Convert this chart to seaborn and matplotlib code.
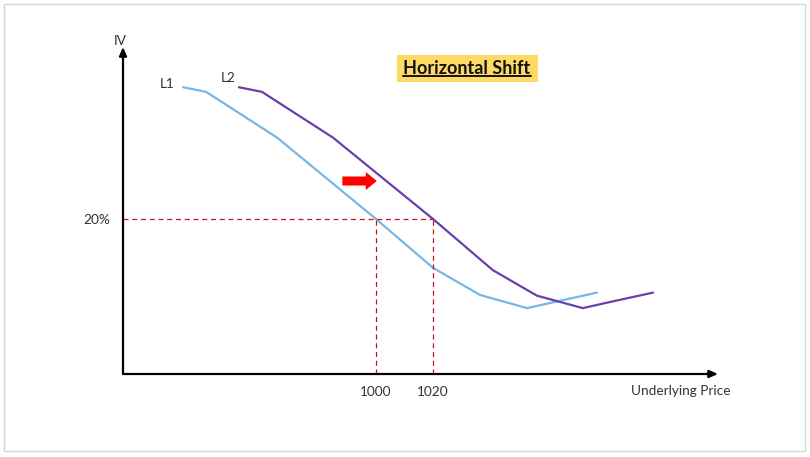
import matplotlib
matplotlib.use("Agg")
import matplotlib.pyplot as plt
import matplotlib.patches as mpatches
from matplotlib.lines import Line2D
import seaborn as sns
import pandas as pd

# ---- data ----
l1_price = [932.3, 940.4, 965.3, 1000.0, 1020.0, 1036.5, 1053.0, 1077.5]
l1_iv = [37.0, 36.4, 30.5, 20.0, 13.7, 10.2, 8.5, 10.5]
l2_price = [951.9, 960.0, 984.9, 1020.0, 1041.0, 1056.5, 1072.6, 1081.0, 1097.2]
l2_iv = [37.0, 36.4, 30.5, 20.0, 13.4, 10.1, 8.5, 9.2, 10.5]
ref_prices = [1000, 1020]
ref_iv = 20
x_tick_labels = ["1000", "1020"]
y_tick_label = "20%"
title = "Horizontal Shift"

sns.set_style("white")
plt.rcParams["font.family"] = ["Lato", "DejaVu Sans"]

df = pd.concat([
    pd.DataFrame({"price": l1_price, "iv": l1_iv, "series": "L1"}),
    pd.DataFrame({"price": l2_price, "iv": l2_iv, "series": "L2"}),
])

fig = plt.figure(figsize=(8.10, 4.57), dpi=100)
ax = fig.add_axes([123 / 810, (457 - 374) / 457, (718 - 123) / 810, (374 - 47) / 457])
ax.set_xlim(911.23, 1120.0)
ax.set_ylim(0, 42.19)

palette = {"L1": "#76B7E5", "L2": "#6A3FAA"}
sns.lineplot(data=df, x="price", y="iv", hue="series", palette=palette,
             linewidth=1.6, sort=False, estimator=None, legend=False, ax=ax)

# dashed reference lines
red = "#C0141E"
ax.plot([ax.get_xlim()[0], ref_prices[1]], [ref_iv, ref_iv], ls=(0, (4, 3)), color=red, lw=0.9)
for p in ref_prices:
    ax.plot([p, p], [0, ref_iv], ls=(0, (4, 3)), color=red, lw=0.9)

# axes with arrows
for s in ax.spines.values():
    s.set_visible(False)
ax.annotate("", xy=(1.0, 0), xytext=(0, 0), xycoords="axes fraction",
            arrowprops=dict(arrowstyle="-|>,head_length=0.5,head_width=0.22", color="black", lw=1.6,
                            shrinkA=0, shrinkB=0))
ax.annotate("", xy=(0, 1.0), xytext=(0, 0), xycoords="axes fraction",
            arrowprops=dict(arrowstyle="-|>,head_length=0.5,head_width=0.22", color="black", lw=1.6,
                            shrinkA=0, shrinkB=0))

ax.set_xticks(ref_prices)
ax.set_xticklabels(x_tick_labels)
ax.set_yticks([ref_iv])
ax.set_yticklabels([y_tick_label])
ax.tick_params(axis="both", length=0, labelsize=9.8, colors="#333333")
ax.tick_params(axis="x", pad=9)
ax.tick_params(axis="y", pad=9)
ax.set_xlabel("")
ax.set_ylabel("")

txt_kw = dict(fontsize=9.8, color="#333333")
fig.text(681 / 810, 1 - 391 / 457, "Underlying Price", ha="center", va="center", **txt_kw)
fig.text(120 / 810, 1 - 41 / 457, "IV", ha="center", va="center", **txt_kw)
fig.text(167 / 810, 1 - 84 / 457, "L1", ha="center", va="center", **txt_kw)
fig.text(228 / 810, 1 - 78 / 457, "L2", ha="center", va="center", **txt_kw)

# red shift arrow
ax.annotate("", xy=(1000.3, 24.9), xytext=(988.2, 24.9),
            arrowprops=dict(arrowstyle="simple,head_width=1.3,head_length=0.8,tail_width=0.65",
                            color="#FF0000", lw=0, shrinkA=0, shrinkB=0))

# title box
fig.add_artist(mpatches.Rectangle((397 / 810, 1 - 82 / 457), 141 / 810, 27 / 457,
                                  transform=fig.transFigure, fc="#FFD966", ec="none", zorder=1))
t = fig.text(467 / 810, 1 - 68 / 457, title, ha="center", va="center",
             fontsize=13, fontweight="bold", color="#111111", zorder=3)
fig.canvas.draw()
bb = t.get_window_extent(renderer=fig.canvas.get_renderer())
uy = bb.y0 + 1.0
fig.add_artist(Line2D([bb.x0 / 810, bb.x1 / 810], [uy / 457, uy / 457],
                      transform=fig.transFigure, color="#111111", lw=1.4, zorder=4))

# figure border
fig.add_artist(mpatches.Rectangle((4 / 810, 6 / 457), 801 / 810, 447 / 457,
                                  transform=fig.transFigure, fill=False, ec="#D5D5D5", lw=1.0))

fig.savefig("out.png", dpi=100)
